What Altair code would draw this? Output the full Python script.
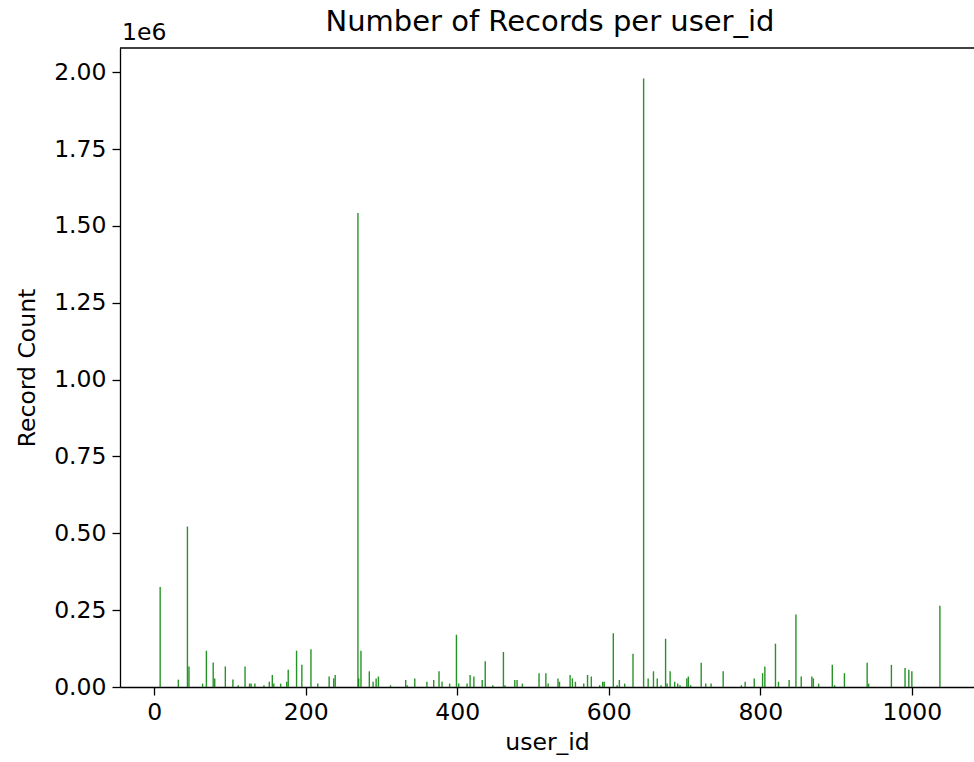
import altair as alt
import pandas as pd

# Record counts per user (only users with a visible bar are listed)
user_ids = [
    8, 32, 44, 46, 64, 69, 78, 80, 94, 104, 111, 120, 126, 128, 133, 145, 152,
    156, 158, 167, 175, 177, 188, 195, 207, 216, 231, 237, 239, 269, 270, 273,
    284, 289, 293, 296, 312, 332, 334, 344, 360, 369, 376, 380, 390, 399, 402,
    413, 417, 422, 433, 437, 447, 461, 463, 476, 479, 486, 508, 517, 520, 533,
    535, 549, 552, 556, 567, 572, 577, 588, 592, 594, 606, 611, 614, 621, 632,
    646, 652, 659, 664, 669, 675, 677, 681, 687, 691, 694, 703, 705, 708, 722,
    728, 735, 751, 775, 780, 792, 803, 806, 820, 824, 838, 847, 854, 868, 870,
    877, 895, 898, 911, 941, 943, 973, 991, 996, 1000, 1037,
]
record_counts = [
    325000, 24000, 522000, 67000, 11000, 118000, 80000, 28000, 67000, 24000,
    6000, 67000, 11000, 11000, 11000, 6000, 17000, 39000, 11000, 11000, 17000,
    56000, 118000, 72000, 123000, 11000, 34000, 28000, 39000, 1542000, 28000,
    118000, 51000, 17000, 28000, 34000, 6000, 23000, 6000, 28000, 17000, 23000,
    51000, 17000, 11000, 170000, 11000, 11000, 39000, 34000, 23000, 84000,
    6000, 114000, 6000, 23000, 23000, 11000, 45000, 45000, 11000, 28000, 17000,
    39000, 28000, 17000, 11000, 39000, 34000, 6000, 17000, 17000, 175000, 6000,
    23000, 11000, 108000, 1980000, 28000, 51000, 28000, 6000, 157000, 11000,
    51000, 17000, 11000, 6000, 28000, 34000, 6000, 79000, 11000, 11000, 51000,
    6000, 17000, 28000, 45000, 67000, 141000, 17000, 23000, 236000, 34000,
    34000, 28000, 11000, 72000, 6000, 45000, 79000, 11000, 72000, 62000, 56000,
    51000, 264000,
]

x_ticks = [0, 200, 400, 600, 800, 1000]
y_ticks = [0, 250000, 500000, 750000, 1000000, 1250000, 1500000, 1750000, 2000000]

TITLE = "Number of Records per user_id"
MULTIPLIER = "1e6"

df = pd.DataFrame({"user_id": user_ids, "records": record_counts})
one_row = pd.DataFrame({"title": [TITLE], "mult": [MULTIPLIER]})

W, H = 854, 639
FONT = "DejaVu Sans"
LABEL_SIZE = 23.5

x_enc = alt.X(
    "user_id:Q",
    scale=alt.Scale(domain=[-45, 1082], nice=False, zero=False),
    axis=alt.Axis(values=x_ticks, format="d", title="user_id", grid=False,
                  labelPadding=5, titlePadding=7),
)
y_enc = alt.Y(
    "records:Q",
    scale=alt.Scale(domain=[0, 2079000], nice=False),
    axis=alt.Axis(
        values=y_ticks,
        labelExpr="format(datum.value / 1e6, '.2f')",
        title="Record Count",
        grid=False,
        labelPadding=6,
        titlePadding=14,
    ),
)

bars = alt.Chart(df).mark_rule(color="green", strokeWidth=1.4, opacity=0.85).encode(
    x=x_enc, y=y_enc, y2=alt.datum(0)
)

# top spine of the frame
top_spine = alt.Chart(one_row).mark_rule(color="black", strokeWidth=1.3).encode(
    x=alt.value(0), x2=alt.value(W), y=alt.value(0)
)

# scale multiplier shown above the y axis
mult_text = alt.Chart(one_row).mark_text(
    font=FONT, fontSize=LABEL_SIZE, align="left", baseline="alphabetic", color="black"
).encode(x=alt.value(2), y=alt.value(-8), text="mult:N")

# chart heading, centred over the plot area
title_text = alt.Chart(one_row).mark_text(
    font=FONT, fontSize=29, align="center", baseline="alphabetic", color="black"
).encode(x=alt.value(W / 2 + 3), y=alt.value(-17), text="title:N")

chart = (
    alt.layer(bars, top_spine, mult_text, title_text)
    .properties(
        width=W,
        height=H,
        autosize=alt.AutoSizeParams(type="none"),
        padding={"left": 120, "top": 48, "right": 0, "bottom": 75},
    )
    .configure_view(stroke=None)
    .configure_axis(
        labelFont=FONT,
        labelFontSize=LABEL_SIZE,
        labelColor="black",
        titleFont=FONT,
        titleFontSize=LABEL_SIZE,
        titleFontWeight="normal",
        titleColor="black",
        domainColor="black",
        domainWidth=1.3,
        tickColor="black",
        tickWidth=1.3,
        tickSize=8,
    )
)

chart.save("out.html", embed_options={"renderer": "svg", "actions": False})
